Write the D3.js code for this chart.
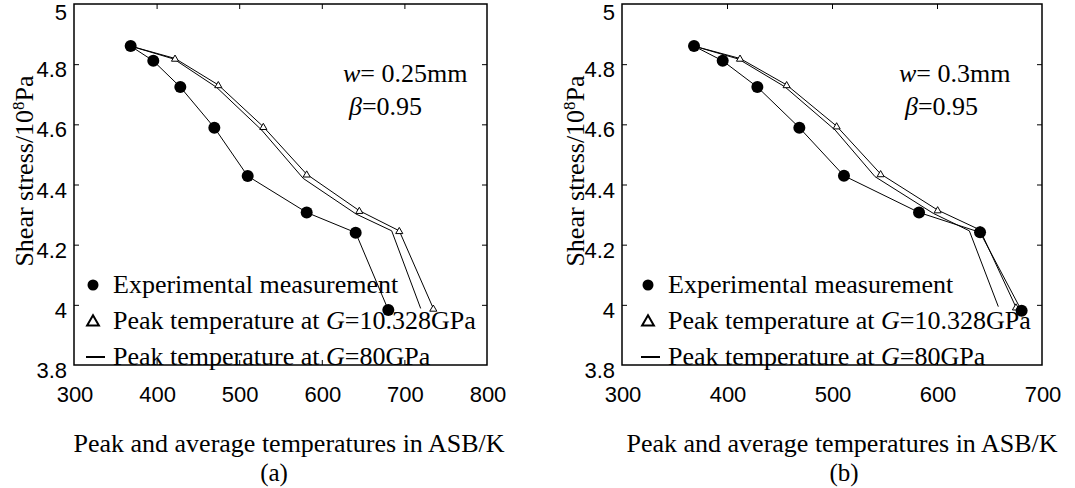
<!DOCTYPE html>
<html><head><meta charset="utf-8">
<script src="https://cdn.jsdelivr.net/npm/d3@7"></script>
<style>body{margin:0;background:#fff}svg{display:block}</style>
</head><body>
<svg id="c" width="1075" height="488"></svg>
<script>
// ---- data ----
const yTicks = [3.8, 4, 4.2, 4.4, 4.6, 4.8, 5];
const aXTicks = [300, 400, 500, 600, 700, 800];
const bXTicks = [300, 400, 500, 600, 700];
const aExpX = [368.6, 396, 428.7, 469.9, 510.3, 581.7, 641, 680.5];
const aExpY = [4.86, 4.811, 4.724, 4.589, 4.428, 4.307, 4.240, 3.983];
const aG10X = [368.6, 422.3, 474.7, 529.2, 581.7, 645.4, 693.8, 735];
const aG10Y = [4.86, 4.819, 4.731, 4.592, 4.434, 4.313, 4.246, 3.988];
const aG80X = [368.6, 421, 472.6, 527.2, 577.6, 641.4, 684.6, 719.7];
const aG80Y = [4.86, 4.817, 4.723, 4.581, 4.420, 4.302, 4.246, 3.988];
const bExpX = [368.6, 395.9, 428.9, 468.9, 511.4, 582.9, 641, 680.6];
const bExpY = [4.86, 4.811, 4.724, 4.589, 4.429, 4.307, 4.241, 3.98];
const bG10X = [368.6, 412.4, 456.8, 504.4, 546.3, 600.6, 641, 675.2];
const bG10Y = [4.86, 4.819, 4.731, 4.594, 4.435, 4.315, 4.249, 3.992];
const bG80X = [368.6, 411, 455, 503, 541, 596.5, 630.8, 658.4];
const bG80Y = [4.86, 4.817, 4.725, 4.581, 4.426, 4.304, 4.246, 3.994];
const legendLabels = ["Experimental measurement", "Peak temperature at ", "Peak temperature at "];
const legendG = ["", "=10.328GPa", "=80GPa"];

const svg = d3.select("#c");
svg.append("rect").attr("width",1075).attr("height",488).attr("fill","#fff");
const SERIF = "'Liberation Serif','Times New Roman',serif";
const SANS = "'Liberation Sans',Arial,sans-serif";

function panel(cfg){
  const g = svg.append("g");
  const x = d3.scaleLinear().domain(cfg.xDomain).range([cfg.left, cfg.right]);
  const y = d3.scaleLinear().domain([3.8, 5]).range([365, 4]);
  const top = 4, bottom = 365;
  const innerX = cfg.xTicks.slice(1, -1);
  const innerY = yTicks.slice(1, -1);
  // axes with inward ticks
  g.append("g").attr("transform",`translate(0,${bottom})`)
    .call(d3.axisTop(x).tickValues(innerX).tickSize(5).tickFormat(""))
    .call(a=>{a.select(".domain").remove(); a.selectAll("line").attr("stroke","#000");});
  g.append("g").attr("transform",`translate(0,${top})`)
    .call(d3.axisBottom(x).tickValues(innerX).tickSize(5).tickFormat(""))
    .call(a=>{a.select(".domain").remove(); a.selectAll("line").attr("stroke","#000");});
  g.append("g").attr("transform",`translate(${cfg.left},0)`)
    .call(d3.axisRight(y).tickValues(innerY).tickSize(5).tickFormat(""))
    .call(a=>{a.select(".domain").remove(); a.selectAll("line").attr("stroke","#000");});
  g.append("g").attr("transform",`translate(${cfg.right},0)`)
    .call(d3.axisLeft(y).tickValues(innerY).tickSize(5).tickFormat(""))
    .call(a=>{a.select(".domain").remove(); a.selectAll("line").attr("stroke","#000");});
  g.append("rect").attr("x",cfg.left).attr("y",top).attr("width",cfg.right-cfg.left).attr("height",bottom-top)
    .attr("fill","none").attr("stroke","#000").attr("stroke-width",1.5);
  // tick labels
  g.selectAll(".xl").data(cfg.xTicks).enter().append("text")
    .attr("x",d=>x(d)+1).attr("y",402).attr("text-anchor","middle")
    .attr("font-family",SANS).attr("font-size",22).text(d=>d);
  g.selectAll(".yl").data(yTicks).enter().append("text")
    .attr("x",cfg.left-7).attr("y",d=>y(d)+(d===5?16:13)).attr("text-anchor","end")
    .attr("font-family",SANS).attr("font-size",22).text(d=>d);
  // y title
  const yt = g.append("text").attr("transform",`translate(${cfg.ytX},171) rotate(-90)`)
    .attr("text-anchor","middle").attr("font-family",SERIF).attr("font-size",26);
  yt.append("tspan").text("Shear stress/10");
  yt.append("tspan").attr("dy",-9).attr("font-size",17).text("8");
  yt.append("tspan").attr("dy",9).text("Pa");
  // x title and panel label
  g.append("text").attr("x",cfg.xtX).attr("y",452).attr("text-anchor","middle")
    .attr("font-family",SERIF).attr("font-size",26).text("Peak and average temperatures in ASB/K");
  g.append("text").attr("x",cfg.labX).attr("y",481).attr("text-anchor","middle")
    .attr("font-family",SERIF).attr("font-size",25).text(cfg.lab);
  // lines
  const line = d3.line().x(d=>x(d[0])).y(d=>y(d[1]));
  const exp = d3.zip(cfg.expX, cfg.expY), g10 = d3.zip(cfg.g10X, cfg.g10Y), g80 = d3.zip(cfg.g80X, cfg.g80Y);
  [g80, g10, exp].forEach(s=>g.append("path").attr("d",line(s)).attr("fill","none").attr("stroke","#000").attr("stroke-width",1));
  const tri = d3.symbol().type(d3.symbolTriangle).size(22);
  g.selectAll(".tr").data(g10.slice(1)).enter().append("path").attr("d",tri)
    .attr("transform",d=>`translate(${x(d[0])},${y(d[1])+0.7})`).attr("fill","#fff").attr("stroke","#000").attr("stroke-width",1);
  g.selectAll(".ci").data(exp).enter().append("circle")
    .attr("cx",d=>x(d[0])).attr("cy",d=>y(d[1])).attr("r",6).attr("fill","#000");
  // annotation
  const a1 = g.append("text").attr("x",cfg.annX).attr("y",82).attr("font-family",SERIF).attr("font-size",26);
  a1.append("tspan").attr("font-style","italic").text("w");
  a1.append("tspan").text("= " + cfg.w);
  const a2 = g.append("text").attr("x",cfg.annX+6).attr("y",115).attr("font-family",SERIF).attr("font-size",26);
  a2.append("tspan").attr("font-style","italic").text("β");
  a2.append("tspan").text("=0.95");
  // legend
  const lx = cfg.legX, ly = [285, 321, 357];
  g.append("circle").attr("cx",lx).attr("cy",ly[0]).attr("r",5.5).attr("fill","#000");
  g.append("path").attr("d",d3.symbol().type(d3.symbolTriangle).size(60))
    .attr("transform",`translate(${lx},${ly[1]+1})`).attr("fill","none").attr("stroke","#000").attr("stroke-width",2);
  g.append("line").attr("x1",lx-7).attr("x2",lx+12).attr("y1",ly[2]).attr("y2",ly[2]).attr("stroke","#000").attr("stroke-width",2);
  legendLabels.forEach((t,i)=>{
    const tx = g.append("text").attr("x",lx+20).attr("y",ly[i]+8).attr("font-family",SERIF).attr("font-size",26);
    tx.append("tspan").text(t);
    if(legendG[i]){ tx.append("tspan").attr("font-style","italic").text("G"); tx.append("tspan").text(legendG[i]); }
  });
}

panel({xDomain:[300,800], left:74, right:487, xTicks:aXTicks, expX:aExpX, expY:aExpY, g10X:aG10X, g10Y:aG10Y, g80X:aG80X, g80Y:aG80Y,
  ytX:33, xtX:289, labX:274, lab:"(a)", annX:343, w:"0.25mm", legX:93});
panel({xDomain:[300,700], left:622, right:1042, xTicks:bXTicks, expX:bExpX, expY:bExpY, g10X:bG10X, g10Y:bG10Y, g80X:bG80X, g80Y:bG80Y,
  ytX:584, xtX:842, labX:844, lab:"(b)", annX:899, w:"0.3mm", legX:648});
</script>
</body></html>
